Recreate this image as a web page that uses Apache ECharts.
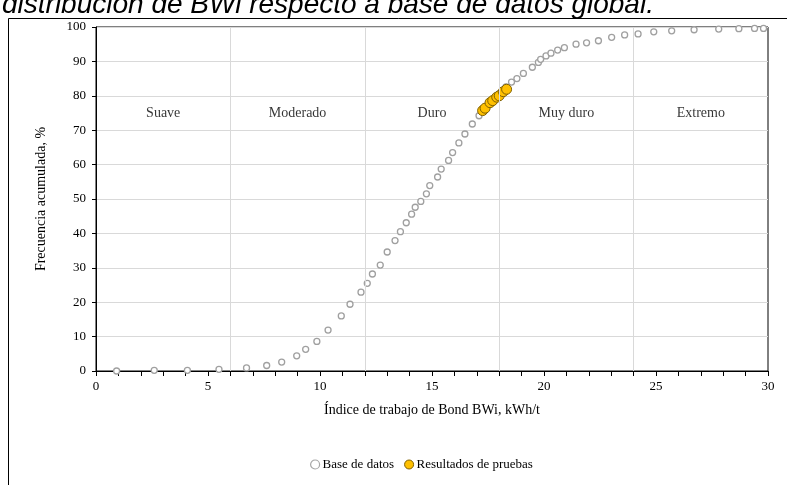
<!DOCTYPE html>
<html><head><meta charset="utf-8">
<script src="https://cdn.jsdelivr.net/npm/echarts@6/dist/echarts.min.js"></script>
<style>html,body{margin:0;padding:0;background:#fff}#c{width:787px;height:485px}</style>
</head><body><div id="c"></div>
<script>
const titleText = 'distribución de BWi respecto a base de datos global.';
const xAxisName = 'Índice de trabajo de Bond BWi, kWh/t';
const yAxisName = 'Frecuencia acumulada, %';
const seriesNames = ['Base de datos', 'Resultados de pruebas'];
const zoneBounds = [6, 12, 18, 24];
const zoneNames = ['Suave', 'Moderado', 'Duro', 'Muy duro', 'Extremo'];
const zoneLabelX = [3, 9, 15, 21, 27];
const zoneLabelY = 75;
const baseBWi = [0.92,2.6,4.08,5.49,6.72,7.62,8.29,8.96,9.36,9.86,10.36,10.95,11.34,11.83,12.11,12.34,12.69,13.0,13.35,13.59,13.85,14.09,14.25,14.5,14.75,14.9,15.25,15.41,15.74,15.92,16.2,16.47,16.8,17.1,17.4,17.7,18.0,18.3,18.55,18.79,19.08,19.48,19.75,19.85,20.09,20.31,20.61,20.91,21.43,21.9,22.43,23.02,23.6,24.2,24.9,25.7,26.7,27.8,28.7,29.4,29.8];
const baseFreq = [0,0.2,0.2,0.5,0.9,1.6,2.6,4.4,6.3,8.6,11.9,16.0,19.4,22.9,25.5,28.2,30.8,34.6,37.9,40.5,43.1,45.6,47.6,49.3,51.5,53.9,56.4,58.7,61.2,63.5,66.3,68.9,71.8,74.2,76.6,78.6,80.6,82.6,84.0,85.0,86.5,88.3,89.7,90.6,91.6,92.4,93.3,94.0,95.0,95.4,96.0,97.0,97.7,98.0,98.6,98.9,99.2,99.4,99.5,99.6,99.6];
const testBWi = [17.26,17.37,17.59,17.71,17.89,18.0,18.18,18.33];
const testFreq = [75.7,76.4,78.0,78.6,79.6,80.0,81.2,81.9];

const serif = '"Liberation Serif", "Times New Roman", serif';
const chart = echarts.init(document.getElementById('c'), null, {renderer: 'canvas'});
chart.setOption({
  animation: false,
  backgroundColor: '#fff',
  textStyle: {fontFamily: serif},
  graphic: [
    {type: 'rect', shape: {x: 8.5, y: 18.5, width: 800, height: 500}, style: {fill: 'none', stroke: '#000', lineWidth: 1}, z: -1},
    {type: 'text', left: 2, top: -9, style: {text: titleText, font: 'italic 28px "Liberation Sans", Arial, sans-serif', fill: '#000'}}
  ],
  grid: {left: 96, right: 19, top: 27, bottom: 114, show: true, borderColor: '#000', borderWidth: 1},
  legend: {
    bottom: 9, left: 305, itemGap: 10, itemWidth: 9, itemHeight: 9,
    textStyle: {fontFamily: serif, fontSize: 13, color: '#000', padding: [0, 0, 0, -2]},
    data: [
      {name: seriesNames[0], icon: 'circle', itemStyle: {color: '#fff', borderColor: '#a6a6a6', borderWidth: 1.2}},
      {name: seriesNames[1], icon: 'circle', itemStyle: {color: '#ffc000', borderColor: '#7f6000', borderWidth: 1}}
    ]
  },
  xAxis: {
    type: 'value', min: 0, max: 30, interval: 5,
    name: xAxisName, nameLocation: 'middle', nameGap: 32,
    nameTextStyle: {fontFamily: serif, fontSize: 14, color: '#000'},
    axisLine: {show: true, lineStyle: {color: '#000', width: 1}},
    axisTick: {show: true, length: 5, lineStyle: {color: '#000'}},
    minorTick: {show: true, splitNumber: 5, length: 5, lineStyle: {color: '#000'}},
    axisLabel: {fontFamily: serif, fontSize: 13, color: '#000', margin: 9},
    splitLine: {show: false}
  },
  yAxis: {
    type: 'value', min: 0, max: 100, interval: 10,
    name: yAxisName, nameLocation: 'middle', nameGap: 48,
    nameTextStyle: {fontFamily: serif, fontSize: 14, color: '#000'},
    axisLine: {show: true, lineStyle: {color: '#000', width: 1}},
    axisTick: {show: true, length: 4, lineStyle: {color: '#000'}},
    axisLabel: {fontFamily: serif, fontSize: 13, color: '#000', margin: 10},
    splitLine: {show: true, lineStyle: {color: '#d9d9d9', width: 1}}
  },
  series: [
    {
      name: seriesNames[0], type: 'scatter', symbol: 'circle', symbolSize: 6,
      itemStyle: {color: '#fff', borderColor: '#a0a0a0', borderWidth: 1.3, opacity: 1},
      data: baseBWi.map((x, i) => [x, baseFreq[i]]),
      markLine: {
        silent: true, symbol: 'none', label: {show: false},
        lineStyle: {color: '#d9d9d9', width: 1, type: 'solid'},
        data: zoneBounds.map(v => ({xAxis: v}))
      },
      z: 3
    },
    {
      name: seriesNames[1], type: 'scatter', symbol: 'circle', symbolSize: 10,
      itemStyle: {color: '#ffc000', borderColor: '#7f6000', borderWidth: 1, opacity: 1},
      data: testBWi.map((x, i) => [x, testFreq[i]]),
      z: 4
    },
    {
      name: 'zonas', type: 'scatter', symbolSize: 0, silent: true,
      label: {show: true, position: 'inside', formatter: p => zoneNames[p.dataIndex], fontFamily: serif, fontSize: 14, color: '#000'},
      data: zoneLabelX.map(x => [x, zoneLabelY]),
      z: 2
    }
  ]
});
</script></body></html>
